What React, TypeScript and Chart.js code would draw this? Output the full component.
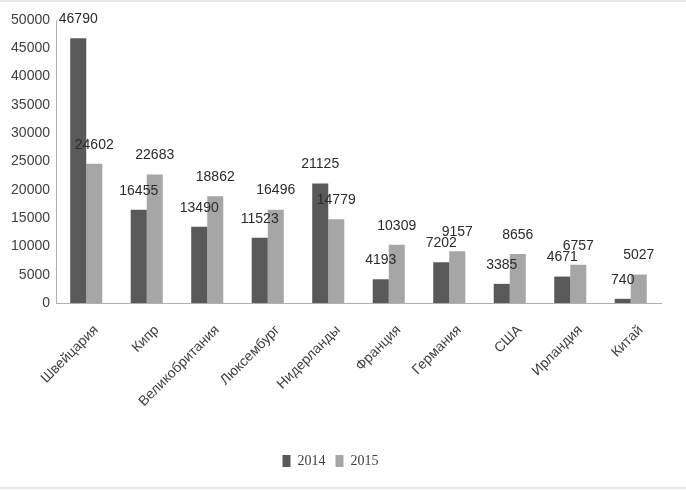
import React, { useEffect, useRef } from "react";
import { Chart, registerables } from "chart.js";

Chart.register(...registerables);

const categories = [
  "Швейцария",
  "Кипр",
  "Великобритания",
  "Люксембург",
  "Нидерланды",
  "Франция",
  "Германия",
  "США",
  "Ирландия",
  "Китай",
];
const series2014 = [46790, 16455, 13490, 11523, 21125, 4193, 7202, 3385, 4671, 740];
const series2015 = [24602, 22683, 18862, 16496, 14779, 10309, 9157, 8656, 6757, 5027];
const seriesNames = ["2014", "2015"];
const yMin = 0;
const yMax = 50000;
const yStep = 5000;

const valueLabels = {
  id: "valueLabels",
  afterDatasetsDraw(chart: any) {
    const ctx = chart.ctx;
    ctx.save();
    ctx.font = "14px 'Liberation Sans', Arial, sans-serif";
    ctx.fillStyle = "#2b2b2b";
    ctx.textAlign = "center";
    ctx.textBaseline = "middle";
    chart.data.datasets.forEach((ds: any, i: number) => {
      const meta = chart.getDatasetMeta(i);
      meta.data.forEach((bar: any, j: number) => {
        ctx.fillText(String(ds.data[j]), bar.x, bar.y - 19);
      });
    });
    ctx.restore();
  },
};

export default function App() {
  const ref = useRef<HTMLCanvasElement | null>(null);
  useEffect(() => {
    if (!ref.current) return;
    const chart = new Chart(ref.current, {
      type: "bar",
      data: {
        labels: categories,
        datasets: [
          {
            label: seriesNames[0],
            data: series2014,
            backgroundColor: "#595959",
            barPercentage: 1,
            categoryPercentage: 0.53,
          },
          {
            label: seriesNames[1],
            data: series2015,
            backgroundColor: "#a6a6a6",
            barPercentage: 1,
            categoryPercentage: 0.53,
          },
        ],
      },
      options: {
        animation: false,
        responsive: false,
        maintainAspectRatio: false,
        layout: { padding: { top: 20, right: 25, bottom: 12, left: 0 } },
        plugins: {
          tooltip: { enabled: false },
          legend: {
            position: "bottom",
            labels: {
              boxWidth: 8,
              boxHeight: 12,
              padding: 10,
              color: "#404040",
              font: { family: "'Liberation Serif', serif", size: 14 },
            },
          },
        },
        scales: {
          x: {
            grid: { display: false },
            border: { display: true, color: "#b0b0b0" },
            ticks: {
              maxRotation: 45,
              minRotation: 45,
              autoSkip: false,
              labelOffset: 10,
              padding: 11,
              color: "#404040",
              font: { family: "'Liberation Sans', Arial, sans-serif", size: 14 },
            },
            afterFit(scale: any) {
              scale.height = 141;
            },
          },
          y: {
            min: yMin,
            max: yMax,
            grid: { display: false, drawTicks: false },
            border: { display: true, color: "#b0b0b0" },
            ticks: {
              stepSize: yStep,
              padding: 6,
              color: "#404040",
              font: { family: "'Liberation Sans', Arial, sans-serif", size: 14 },
              callback: (v: any) => String(v),
            },
            afterFit(scale: any) {
              scale.width = 56;
            },
          },
        },
      },
      plugins: [valueLabels],
    });
    return () => chart.destroy();
  }, []);
  return (
    <div style={{ position: "absolute", left: 0, top: 0, width: 686, height: 490, background: "#fff" }}>
      <canvas ref={ref} width={686} height={490} style={{ position: "absolute", left: 0, top: 0 }} />
      <div
        style={{
          position: "absolute",
          left: 0,
          top: 0,
          width: 686,
          height: 489,
          boxSizing: "border-box",
          borderTop: "2px solid #e6e6e6",
          borderBottom: "2px solid #e6e6e6",
          pointerEvents: "none",
        }}
      />
    </div>
  );
}
